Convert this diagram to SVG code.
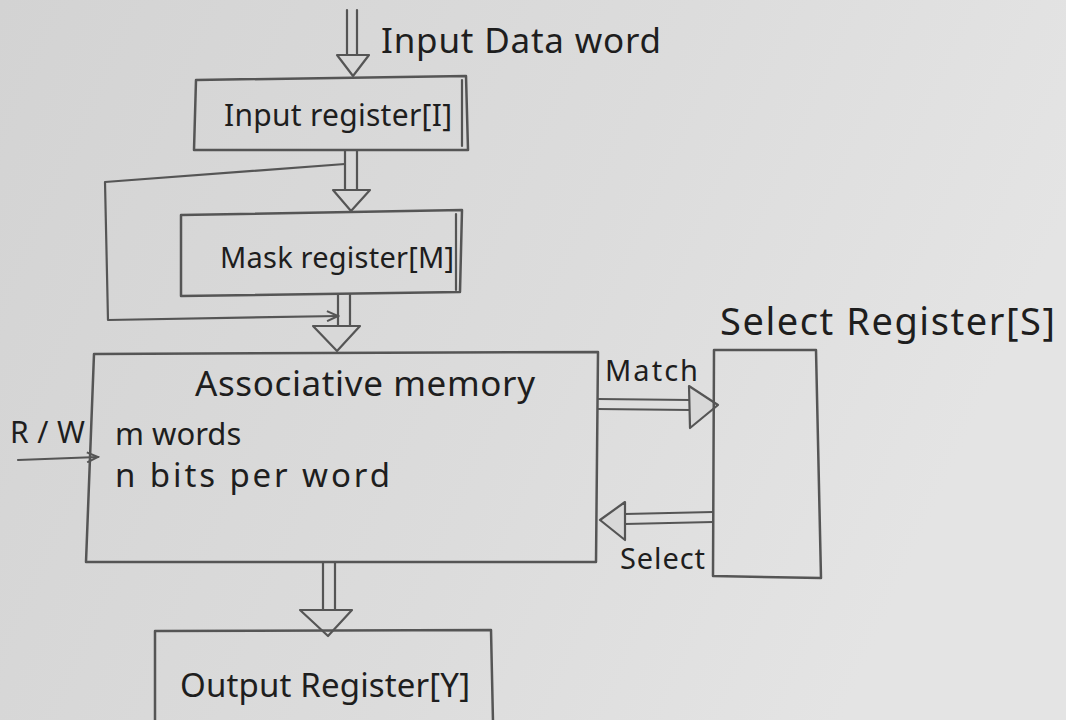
<svg xmlns="http://www.w3.org/2000/svg" width="1066" height="720" viewBox="0 0 1066 720">
<defs>
<linearGradient id="paper" x1="0" y1="0" x2="1" y2="0.3">
<stop offset="0" stop-color="#d3d3d3"/>
<stop offset="0.6" stop-color="#dcdcdc"/>
<stop offset="1" stop-color="#e4e4e4"/>
</linearGradient>
<marker id="open" markerWidth="14" markerHeight="12" refX="12" refY="6" orient="auto" markerUnits="userSpaceOnUse">
<path d="M1,1 L12,6 L1,11" fill="none" stroke="#555" stroke-width="2"/>
</marker>
</defs>
<style>
.box{fill:none;stroke:#555;stroke-width:2.5;stroke-linejoin:round}
.ln{fill:none;stroke:#555;stroke-width:2.2;stroke-linecap:round;stroke-linejoin:round}
.hd{fill:#d8d8d8;stroke:#555;stroke-width:2.2;stroke-linejoin:round}
.t{font-family:"Noto Sans","DejaVu Sans",sans-serif;font-size:28px;fill:#1e1e1e}
</style>
<rect width="1066" height="720" fill="url(#paper)"/>

<g id="connectors">
<path class="ln" d="M347,10 L347,55 M357,10 L357,55"/>
<path class="hd" d="M337,55 L369,55 L353,76 Z"/>
<path class="ln" d="M345,150 L345,190 M357,150 L357,190"/>
<path class="hd" d="M333,190 L370,190 L351,211 Z"/>
<path class="ln" d="M345,164 L105,182 L108,320 L338,316" marker-end="url(#open)"/>
<path class="ln" d="M338,294 L338,326 M350,294 L350,326"/>
<path class="hd" d="M313,326 L360,326 L337,351 Z"/>
<path class="ln" d="M18,460 L98,457" marker-end="url(#open)"/>
<path class="ln" d="M598,399 L690,400 M598,409 L690,410"/>
<path class="hd" d="M689,386 L718,405 L690,428 Z"/>
<path class="ln" d="M713,512 L625,514 M713,522 L625,524"/>
<path class="hd" d="M625,502 L600,520 L625,540 Z"/>
<path class="ln" d="M323,562 L323,610 M335,562 L335,610"/>
<path class="hd" d="M300,610 L352,610 L328,636 Z"/>
</g>

<text class="t" x="381" y="53" style="font-size:35px" textLength="280">Input Data word</text>

<g id="input-register">
<path class="box" d="M196,80 L466,76 L468,150 L194,150 Z"/>
<path class="ln" d="M462,80 L462,146"/>
<text class="t" x="224" y="126" style="font-size:30px" textLength="228">Input register[I]</text>
</g>

<g id="mask-register">
<path class="box" d="M181,215 L462,210 L460,292 L181,296 Z"/>
<path class="ln" d="M456,214 L456,290"/>
<text class="t" x="220" y="268" style="font-size:29px" textLength="234">Mask register[M]</text>
</g>

<g id="associative-memory">
<path class="box" d="M94,354 L598,352 L596,562 L86,562 Z"/>
<text class="t" x="195" y="396" style="font-size:35px" textLength="340">Associative memory</text>
<text class="t" x="115" y="445" style="font-size:31px">m words</text>
<text class="t" x="115" y="487" style="font-size:33px" textLength="275">n bits per word</text>
</g>
<text class="t" x="10" y="443" style="font-size:30px" textLength="75">R/W</text>

<text class="t" x="605" y="381" style="font-size:29px" textLength="93">Match</text>
<text class="t" x="620" y="569" style="font-size:29px" textLength="85">Select</text>

<g id="select-register">
<path class="box" d="M714,350 L816,350 L821,578 L713,576 Z"/>
<text class="t" x="720" y="335" style="font-size:38px" textLength="335">Select Register[S]</text>
</g>

<g id="output-register">
<path class="box" d="M155,631 L491,630 L493,722 L155,722 Z"/>
<text class="t" x="180" y="697" style="font-size:33px" textLength="290">Output Register[Y]</text>
</g>
</svg>
